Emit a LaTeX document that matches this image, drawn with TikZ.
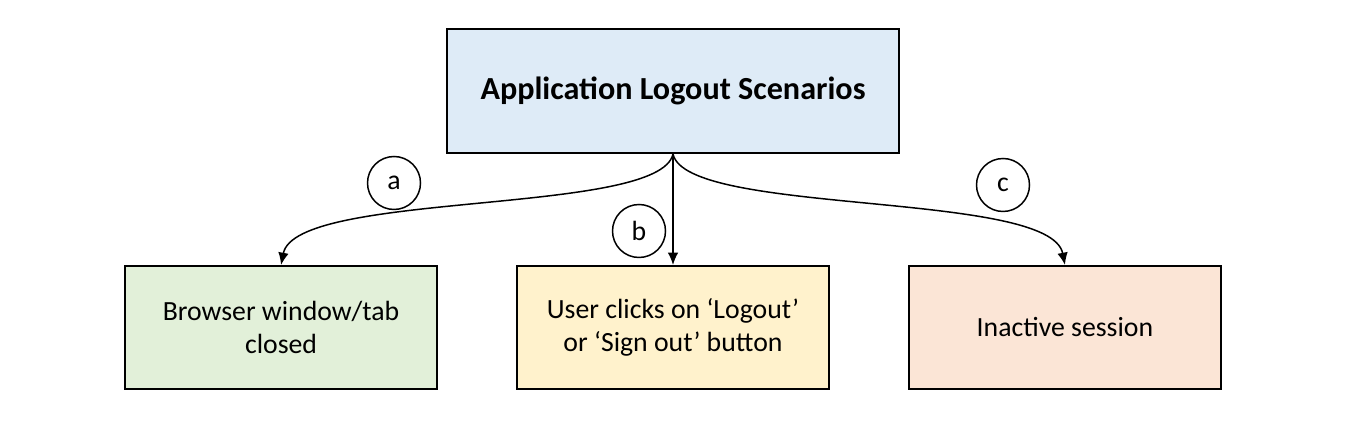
\documentclass[tikz,border=0pt]{standalone}
\usepackage{fontspec}
\setmainfont{Carlito}
\usetikzlibrary{arrows.meta,positioning}
\definecolor{topblue}{HTML}{DEEBF7}
\definecolor{tabgreen}{HTML}{E2F0D9}
\definecolor{clickyellow}{HTML}{FFF2CC}
\definecolor{idlepeach}{HTML}{FBE5D6}

\begin{document}
\begin{tikzpicture}[->,>={Latex[length=7pt,width=6pt]},line width=0.85pt,node distance=1.56cm,
  box/.style={draw,line width=1.1pt,minimum width=6.24cm,minimum height=2.46cm,align=center,
    font=\fontsize{15.8}{18.7}\selectfont},
  tag/.style={draw,circle,line width=0.85pt,minimum size=1.06cm,inner sep=0pt,
    font=\fontsize{15.8}{18}\selectfont}]
  \useasboundingbox (0,0) rectangle (27,8.4);
  \node[box,fill=topblue,minimum width=9.04cm,minimum height=2.48cm,
    font=\fontsize{18.3}{22}\selectfont\bfseries] (logout) at (13.46,6.58) {Application Logout Scenarios};
  \node[box,fill=clickyellow] (click) [below=2.22cm of logout] {User clicks on ‘Logout’\\or ‘Sign out’ button};
  \node[box,fill=tabgreen] (closed) [left=of click] {Browser window/tab\\closed};
  \node[box,fill=idlepeach] (idle) [right=of click] {Inactive session};
  \node[tag] (a) at (7.88,4.74) {a};
  \node[tag] (b) at (12.78,3.78) {b};
  \node[tag] (c) at (20.06,4.70) {c};
  \path (logout.south) edge [out=-102,in=79,out looseness=0.4,in looseness=0.48] (closed.north)
  (logout.south) edge (click.north)
  (logout.south) edge [out=-78,in=101,out looseness=0.4,in looseness=0.48] (idle.north);
\end{tikzpicture}
\end{document}
